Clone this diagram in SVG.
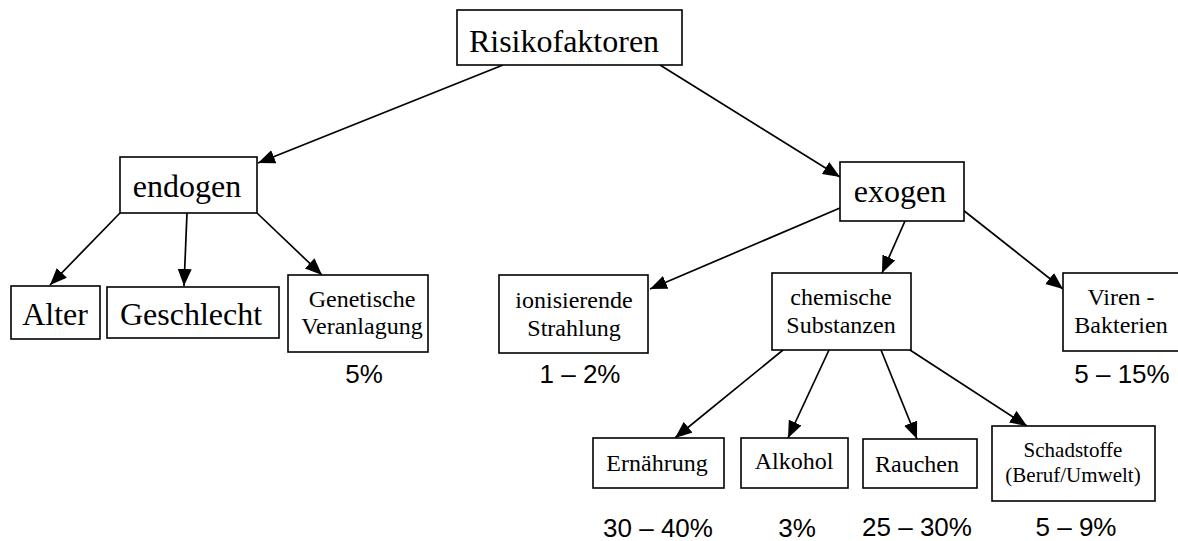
<svg xmlns="http://www.w3.org/2000/svg" width="1178" height="541" viewBox="0 0 1178 541">
<style>
.box{fill:#fff;stroke:#000;stroke-width:1.6}
.t{font-family:"Liberation Serif","Times New Roman",serif;fill:#000;text-anchor:middle}
.big{font-size:32px}
.mid{font-size:24px}
.sm{font-size:21px}
.p{font-family:"Liberation Sans",Arial,sans-serif;font-size:26px;fill:#000;text-anchor:middle}
.c line{stroke:#000;stroke-width:1.7;marker-end:url(#ah)}
</style>
<defs>
<marker id="ah" markerUnits="userSpaceOnUse" markerWidth="18" markerHeight="15" refX="17" refY="7" orient="auto">
<path d="M0,0 L17,7 L0,14 z" fill="#000"/>
</marker>
</defs>
<rect width="1178" height="541" fill="#fff"/>
<g id="connectors" class="c">
<line x1="503" y1="65" x2="258" y2="163"/>
<line x1="660" y1="65" x2="840" y2="177"/>
<line x1="120" y1="213" x2="50" y2="285"/>
<line x1="187" y1="213" x2="184" y2="286"/>
<line x1="257" y1="213" x2="322" y2="275"/>
<line x1="840" y1="208" x2="650" y2="289"/>
<line x1="905" y1="221" x2="882" y2="273"/>
<line x1="963" y1="210" x2="1063" y2="289"/>
<line x1="783" y1="350" x2="675" y2="438"/>
<line x1="829" y1="350" x2="788" y2="438"/>
<line x1="881" y1="350" x2="917" y2="439"/>
<line x1="910" y1="350" x2="1027" y2="426"/>
</g>
<g id="risikofaktoren"><rect class="box" x="457" y="10" width="225" height="55"/><text class="t big" x="564" y="52">Risikofaktoren</text></g>
<g id="endogen"><rect class="box" x="120" y="157" width="137" height="56"/><text class="t big" x="187" y="197">endogen</text></g>
<g id="exogen"><rect class="box" x="840" y="162" width="124" height="59"/><text class="t big" x="900" y="202">exogen</text></g>
<g id="alter"><rect class="box" x="11" y="286" width="89" height="53"/><text class="t big" x="55" y="325">Alter</text></g>
<g id="geschlecht"><rect class="box" x="107" y="287" width="172" height="51"/><text class="t big" x="191" y="325">Geschlecht</text></g>
<g id="genetische"><rect class="box" x="288" y="275" width="140" height="77"/><text class="t mid" x="362" y="307">Genetische</text><text class="t mid" x="362" y="334">Veranlagung</text><text class="p" x="364" y="383">5%</text></g>
<g id="ionisierende"><rect class="box" x="499" y="275" width="149" height="78"/><text class="t mid" x="574" y="308">ionisierende</text><text class="t mid" x="574" y="336">Strahlung</text><text class="p" x="580" y="383">1 – 2%</text></g>
<g id="chemische"><rect class="box" x="772" y="273" width="139" height="77"/><text class="t mid" x="841" y="305">chemische</text><text class="t mid" x="841" y="333">Substanzen</text></g>
<g id="viren"><rect class="box" x="1063" y="273" width="120" height="78"/><text class="t mid" x="1121" y="305">Viren -</text><text class="t mid" x="1121" y="333">Bakterien</text><text class="p" x="1122" y="383">5 – 15%</text></g>
<g id="ernaehrung"><rect class="box" x="593" y="438" width="131" height="50"/><text class="t mid" x="657" y="471">Ernährung</text><text class="p" x="658" y="537">30 – 40%</text></g>
<g id="alkohol"><rect class="box" x="741" y="438" width="107" height="50"/><text class="t mid" x="794" y="469">Alkohol</text><text class="p" x="797" y="537">3%</text></g>
<g id="rauchen"><rect class="box" x="863" y="439" width="114" height="49"/><text class="t mid" x="917" y="472">Rauchen</text><text class="p" x="917" y="536">25 – 30%</text></g>
<g id="schadstoffe"><rect class="box" x="992" y="426" width="163" height="75"/><text class="t sm" x="1073" y="457">Schadstoffe</text><text class="t sm" x="1073" y="482">(Beruf/Umwelt)</text><text class="p" x="1076" y="536">5 – 9%</text></g>
</svg>
